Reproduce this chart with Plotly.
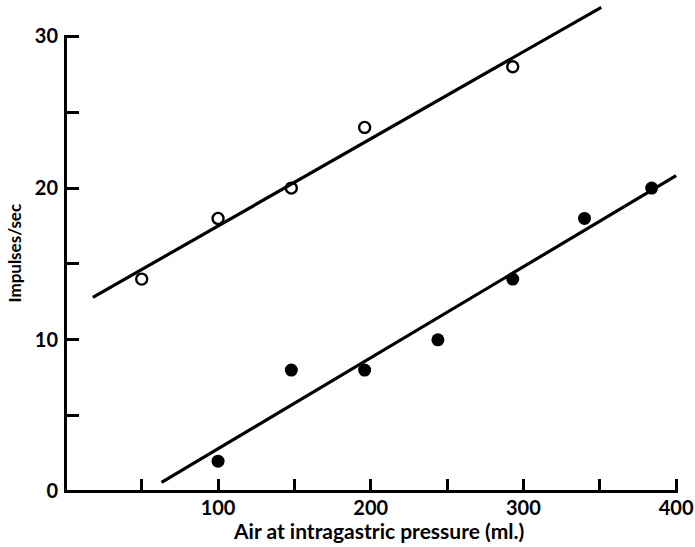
import numpy as np
import plotly.graph_objects as go

# Open circles
open_x = [50, 100, 148, 196, 293]
open_y = [14, 18, 20, 24, 28]
# Filled circles
filled_x = [100, 148, 196, 244, 293, 340, 384]
filled_y = [2, 8, 8, 10, 14, 18, 20]
# Extent of the fitted regression lines (x)
open_fit_x = [18, 351]
filled_fit_x = [63, 400]

x_tickvals = [0, 50, 100, 150, 200, 250, 300, 350, 400]
x_ticktext = ["", "", "100", "", "200", "", "300", "", "400"]
y_tickvals = [0, 5, 10, 15, 20, 25, 30]
y_ticktext = ["0", "", "10", "", "20", "", "30"]

FONT = "Lato"

def fit(xs, ys, ext):
    m, c = np.polyfit(xs, ys, 1)
    ex = np.array(ext, dtype=float)
    return ex, m * ex + c

W, H = 695, 547
L, R, T, B = 64, 16, 4, 54
PW, PH = W - L - R, H - T - B
YPX = 15.17  # pixels per y unit
y_lo = -0.1
y_hi = y_lo + PH / YPX

fig = go.Figure()
ox, oy = fit(open_x, open_y, open_fit_x)
fx, fy = fit(filled_x, filled_y, filled_fit_x)
fig.add_trace(go.Scatter(x=ox, y=oy, mode="lines", line=dict(color="black", width=3.2), hoverinfo="skip"))
fig.add_trace(go.Scatter(x=fx, y=fy, mode="lines", line=dict(color="black", width=3.2), hoverinfo="skip"))
fig.add_trace(go.Scatter(x=open_x, y=open_y, mode="markers",
                         marker=dict(symbol="circle-open", size=11, color="black", line=dict(width=2.4, color="black"))))
fig.add_trace(go.Scatter(x=filled_x, y=filled_y, mode="markers",
                         marker=dict(symbol="circle", size=13, color="black")))

# Axis lines (only from 0 to 30 / 0 to 400)
fig.add_shape(type="line", xref="x", yref="y", x0=0, x1=0, y0=0, y1=30, line=dict(color="black", width=3.2))
fig.add_shape(type="line", xref="x", yref="y", x0=0, x1=400, y0=0, y1=0, line=dict(color="black", width=3.2))

fig.add_annotation(text="Air at intragastric pressure (ml.)", xref="paper", yref="paper",
                   x=(378 - L) / PW, y=-(530 - (T + PH)) / PH, xanchor="center", yanchor="middle",
                   showarrow=False, font=dict(family=FONT, size=21, color="black", weight="bold"))
fig.add_annotation(text="Impulses/sec", xref="paper", yref="paper",
                   x=(14 - L) / PW, y=((T + PH) - 253.5) / PH, xanchor="center", yanchor="middle",
                   textangle=-90, showarrow=False, font=dict(family=FONT, size=17, color="black", weight="bold"))

fig.update_layout(
    width=W, height=H,
    margin=dict(l=L, r=R, t=T, b=B, autoexpand=False),
    paper_bgcolor="white", plot_bgcolor="white",
    showlegend=False,
    font=dict(family=FONT, color="black"),
    xaxis=dict(range=[-0.9, 401.9], showgrid=False, zeroline=False, showline=False, automargin=False,
               tickvals=x_tickvals, ticktext=x_ticktext, ticks="inside", ticklen=14, tickwidth=3,
               tickcolor="black", ticklabelstandoff=1,
               tickfont=dict(family=FONT, size=20, color="black", weight="bold")),
    yaxis=dict(range=[y_lo, y_hi], showgrid=False, zeroline=False, showline=False, automargin=False,
               tickvals=y_tickvals, ticktext=y_ticktext, ticks="inside", ticklen=15, tickwidth=3,
               tickcolor="black", ticklabelstandoff=5,
               tickfont=dict(family=FONT, size=20, color="black", weight="bold")),
)

fig.write_html("out.html", config={"displayModeBar": False},
               post_script="document.body.style.margin='0';document.body.style.overflow='hidden';")
